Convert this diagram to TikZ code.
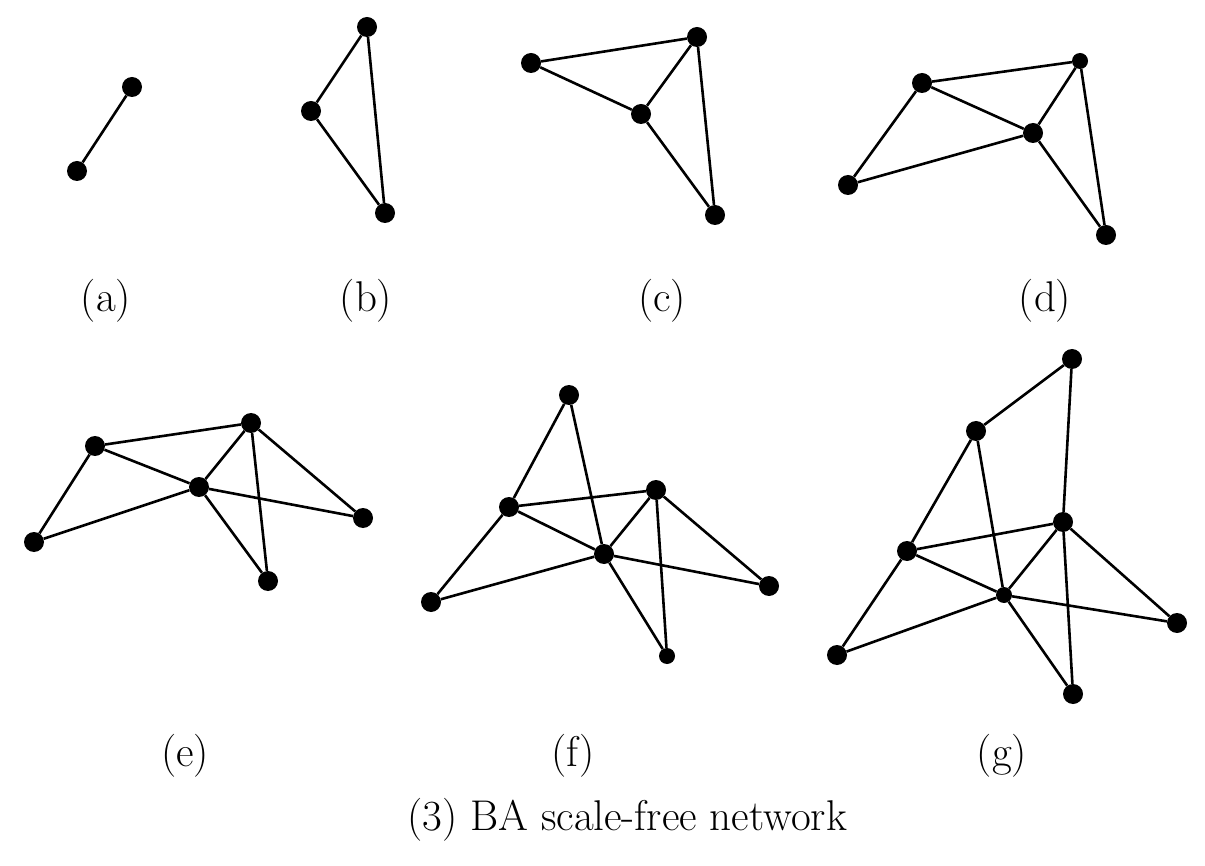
\documentclass[tikz,border=0pt]{standalone}
\begin{document}
\begin{tikzpicture}[x=1pt,y=-1pt,
  vtx/.style={circle,fill=black,inner sep=0pt,minimum size=20pt},
  svtx/.style={circle,fill=black,inner sep=0pt,minimum size=16pt},
  edge/.style={line width=2.6pt},
  lbl/.style={font=\fontsize{43}{45}\selectfont,inner sep=0pt}]
\useasboundingbox (0,0) rectangle (1205,866);
% (a)
\node[vtx] (a1) at (132,87) {};
\node[vtx] (a2) at (77,171) {};
\draw[edge] (a1) -- (a2);
% (b)
\node[vtx] (b1) at (367,27) {};
\node[vtx] (b2) at (311,111) {};
\node[vtx] (b3) at (385,213) {};
\draw[edge] (b1) -- (b2) (b2) -- (b3) (b1) -- (b3);
% (c)
\node[vtx] (c1) at (531,63) {};
\node[vtx] (c2) at (697,37) {};
\node[vtx] (c3) at (641,114) {};
\node[vtx] (c4) at (715,215) {};
\draw[edge] (c1) -- (c2) (c1) -- (c3) (c3) -- (c2) (c2) -- (c4) (c3) -- (c4);
% (d)
\node[vtx] (d1) at (922,83) {};
\node[svtx] (d2) at (1080,61) {};
\node[vtx] (d3) at (1033,133) {};
\node[vtx] (d4) at (848,185) {};
\node[vtx] (d5) at (1106,235) {};
\draw[edge] (d1) -- (d2) (d1) -- (d3) (d3) -- (d2) (d2) -- (d5) (d3) -- (d5) (d1) -- (d4) (d4) -- (d3);
% (e)
\node[vtx] (e1) at (95,446) {};
\node[vtx] (e2) at (251,423) {};
\node[vtx] (e3) at (199,487) {};
\node[vtx] (e4) at (34,542) {};
\node[vtx] (e5) at (363,518) {};
\node[vtx] (e6) at (268,581) {};
\draw[edge] (e1) -- (e2) (e1) -- (e3) (e3) -- (e2) (e2) -- (e6) (e3) -- (e6)
  (e1) -- (e4) (e4) -- (e3) (e3) -- (e5) (e2) -- (e5);
% (f)
\node[vtx] (f1) at (569,395) {};
\node[vtx] (f2) at (509,507) {};
\node[vtx] (f3) at (656,490) {};
\node[vtx] (f4) at (604,554) {};
\node[vtx] (f5) at (431,602) {};
\node[vtx] (f6) at (769,586) {};
\node[svtx] (f7) at (667,656) {};
\draw[edge] (f1) -- (f2) (f1) -- (f4) (f2) -- (f3) (f2) -- (f4) (f4) -- (f3)
  (f2) -- (f5) (f5) -- (f4) (f4) -- (f6) (f3) -- (f6) (f3) -- (f7) (f4) -- (f7);
% (g)
\node[vtx] (g1) at (1072,359) {};
\node[vtx] (g2) at (976,431) {};
\node[vtx] (g3) at (1063,522) {};
\node[vtx] (g4) at (907,551) {};
\node[svtx] (g5) at (1004,595) {};
\node[vtx] (g6) at (837,655) {};
\node[vtx] (g7) at (1177,623) {};
\node[vtx] (g8) at (1073,694) {};
\draw[edge] (g1) -- (g2) (g1) -- (g3) (g2) -- (g4) (g2) -- (g5) (g4) -- (g3)
  (g4) -- (g5) (g4) -- (g6) (g6) -- (g5) (g5) -- (g3) (g5) -- (g7) (g3) -- (g7)
  (g3) -- (g8) (g5) -- (g8);
% labels
\node[lbl] (la) at (106,301) {(a)};
\node[lbl] (lb) at (366,301) {(b)};
\node[lbl] (lc) at (662,301) {(c)};
\node[lbl] (ld) at (1045,301) {(d)};
\node[lbl] (le) at (185,756) {(e)};
\node[lbl] (lf) at (573,756) {(f)};
\node[lbl] (lg) at (1002,756) {(g)};
\node[lbl] (cap) at (627,820) {(3) BA scale-free network};
\end{tikzpicture}
\end{document}
